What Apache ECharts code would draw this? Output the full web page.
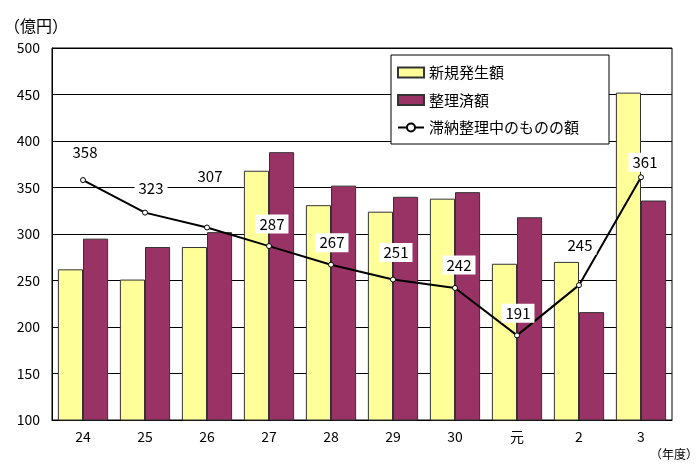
<!DOCTYPE html>
<html><head><meta charset="utf-8">
<script src="https://cdn.jsdelivr.net/npm/echarts@6/dist/echarts.min.js"></script>
<style>html,body{margin:0;padding:0;background:#fff}#c{width:700px;height:469px}</style>
</head><body><div id="c"></div>
<script>
const categories = ['24','25','26','27','28','29','30','元','2','3'];
const newAmounts = [262, 251, 286, 368, 331, 324, 338, 268, 270, 452];
const settledAmounts = [295, 286, 302, 388, 352, 340, 345, 318, 216, 336];
const outstanding = [358, 323, 307, 287, 267, 251, 242, 191, 245, 361];
const yTicks = [100, 150, 200, 250, 300, 350, 400, 450, 500];

const labelOffsets = [[2,-28],[6,-24],[3,-51],[3,-22],[1,-22],[3,-27],[4,-23],[1,-22],[1,-40],[4,-15]];
const FONT = '"Noto Sans CJK JP", "Noto Sans", sans-serif';

const chart = echarts.init(document.getElementById('c'), null, {renderer:'canvas'});
chart.setOption({
  animation: false,
  textStyle: {fontFamily: FONT},
  grid: {left: 52, right: 28, top: 48, bottom: 49, show: true, borderColor: '#000', borderWidth: 1, containLabel: false},
  legend: {
    orient: 'vertical', left: 391, top: 55, width: 215,
    backgroundColor: '#fff', borderColor: '#000', borderWidth: 1,
    padding: [10, 30, 9, 6], itemGap: 12.5, itemWidth: 26, itemHeight: 10,
    textStyle: {fontSize: 15, color: '#000', fontFamily: FONT},
    data: [
      {name: '新規発生額', icon: 'rect'},
      {name: '整理済額', icon: 'rect'},
      {name: '滞納整理中のものの額'}
    ]
  },
  xAxis: {
    type: 'category', data: categories,
    axisLine: {lineStyle: {color: '#000'}},
    axisTick: {show: false},
    axisLabel: {fontSize: 14, color: '#000', margin: 10, fontFamily: FONT}
  },
  yAxis: {
    type: 'value', min: 100, max: 500, interval: 50,
    axisLine: {show: true, lineStyle: {color: '#000'}},
    axisTick: {show: false},
    splitLine: {lineStyle: {color: '#000', width: 1}},
    axisLabel: {fontSize: 14, color: '#000', margin: 12, fontFamily: FONT,
      formatter: v => yTicks.includes(v) ? String(v) : ''}
  },
  graphic: [
    {type: 'text', left: 4, top: 18, style: {text: '（億円）', fontSize: 16, fill: '#000', fontFamily: FONT}},
    {type: 'text', right: 2, top: 448, style: {text: '（年度）', fontSize: 12, fill: '#000', fontFamily: FONT}}
  ],
  series: [
    {name: '新規発生額', type: 'bar', data: newAmounts, barGap: '0%', barCategoryGap: '19%',
      itemStyle: {color: '#FFFF99', borderColor: '#333', borderWidth: 1}},
    {name: '整理済額', type: 'bar', data: settledAmounts,
      itemStyle: {color: '#993366', borderColor: '#333', borderWidth: 1}},
    {name: '滞納整理中のものの額', type: 'line', z: 5,
      data: outstanding.map((v, i) => ({value: v, label: {offset: labelOffsets[i]}})),
      symbol: 'circle', symbolSize: 5,
      lineStyle: {color: '#000', width: 2},
      itemStyle: {color: '#fff', borderColor: '#000', borderWidth: 1},
      label: {show: true, position: 'inside', fontSize: 15, color: '#000', fontFamily: FONT,
        backgroundColor: '#fff', padding: [3, 4, 1, 4]}
    }
  ]
});
</script></body></html>
